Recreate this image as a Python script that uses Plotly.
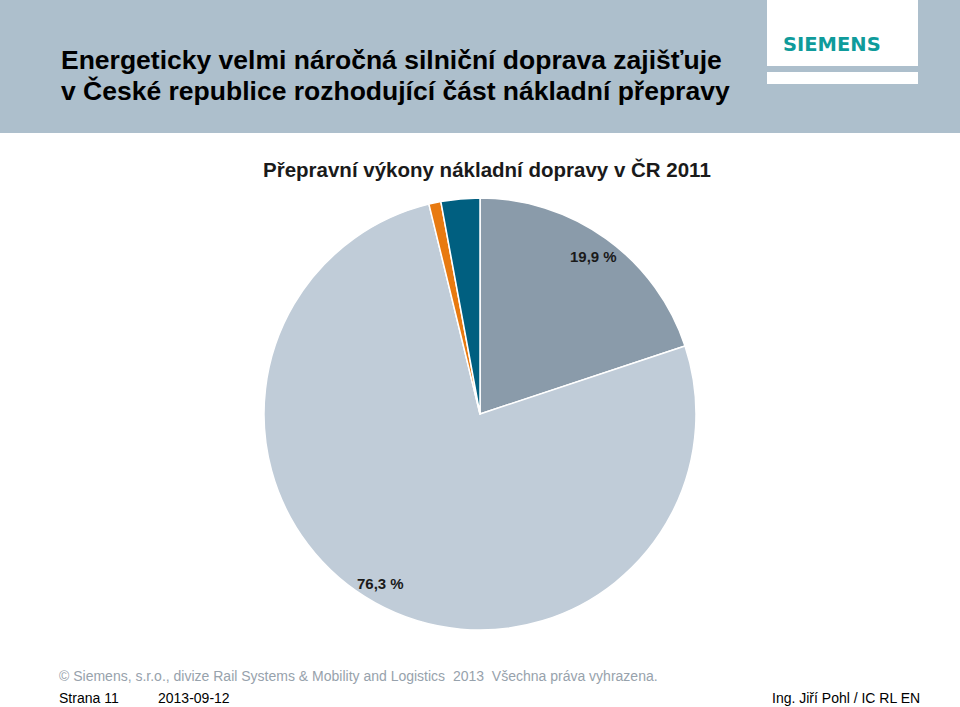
import math
import plotly.graph_objects as go

W, H = 960, 707

categories = ["Silniční doprava A", "Silniční doprava", "Vnitrozemská vodní", "Železniční"]
values = [19.9, 76.3, 0.9, 2.9]
value_labels = ["19,9 %", "76,3 %", "", ""]
colors = ["#8a9baa", "#c0ccd8", "#e87a10", "#005f80"]

title_lines = ["Energeticky velmi náročná silniční doprava zajišťuje",
               "v České republice rozhodující část nákladní přepravy"]
chart_title = "Přepravní výkony nákladní dopravy v ČR 2011"
footer_copy = "© Siemens, s.r.o., divize Rail Systems & Mobility and Logistics  2013  Všechna práva vyhrazena."
footer_page = "Strana 11"
footer_date = "2013-09-12"
footer_author = "Ing. Jiří Pohl / IC RL EN"

cx, cy, R = 480, 414, 216

fig = go.Figure()
fig.add_trace(go.Pie(
    labels=categories, values=values, sort=False, direction="clockwise", rotation=0,
    marker=dict(colors=colors, line=dict(color="white", width=1.5)),
    textinfo="none", hoverinfo="label+percent", showlegend=False,
    domain=dict(x=[(cx - R) / W, (cx + R) / W], y=[(H - cy - R) / H, (H - cy + R) / H]),
))

def px(x, y):
    return x / W, 1 - y / H

ann = []
total = sum(values)
cum = 0
for v, lab in zip(values, value_labels):
    mid = (cum + v / 2) / total * 2 * math.pi
    cum += v
    if not lab:
        continue
    rf = 0.9 if v < 50 else 0.95
    lx = cx + rf * R * math.sin(mid)
    ly = cy - rf * R * math.cos(mid)
    x, y = px(lx, ly)
    ann.append(dict(x=x, y=y, xref="paper", yref="paper", text="<b>" + lab + "</b>", showarrow=False,
                    font=dict(family="Liberation Sans, Arial", size=15, color="#1a1a1a")))

# header texts
for i, line in enumerate(title_lines):
    x, y = px(59, 60 + i * 30.5)
    ann.append(dict(x=x, y=y, xref="paper", yref="paper", text="<b>" + line + "</b>",
                    showarrow=False, xanchor="left", yanchor="middle",
                    font=dict(family="Liberation Sans, Arial", size=26.5, color="#000000")))
x, y = px(832, 44)
ann.append(dict(x=x, y=y, xref="paper", yref="paper", text="<b>SIEMENS</b>", showarrow=False,
                xanchor="center", yanchor="middle",
                font=dict(family="DejaVu Sans, Open Sans", size=19.5, color="#0f9b9b")))
x, y = px(487, 170)
ann.append(dict(x=x, y=y, xref="paper", yref="paper", text="<b>" + chart_title + "</b>", showarrow=False,
                xanchor="center", yanchor="middle",
                font=dict(family="Liberation Sans, Arial", size=20.5, color="#1a1a1a")))
x, y = px(57, 676)
ann.append(dict(x=x, y=y, xref="paper", yref="paper", text=footer_copy, showarrow=False,
                xanchor="left", yanchor="middle",
                font=dict(family="Liberation Sans, Arial", size=14, color="#97a2ac")))
for txt, xx, anc in [(footer_page, 57, "left"), (footer_date, 156, "left"), (footer_author, 922, "right")]:
    x, y = px(xx, 698)
    ann.append(dict(x=x, y=y, xref="paper", yref="paper", text=txt, showarrow=False,
                    xanchor=anc, yanchor="middle",
                    font=dict(family="Liberation Sans, Arial", size=14, color="#000000")))

shapes = [
    dict(type="rect", xref="paper", yref="paper", x0=0, x1=1, y0=1 - 133 / H, y1=1,
         fillcolor="#adbfcc", line=dict(width=0), layer="below"),
    dict(type="rect", xref="paper", yref="paper", x0=767 / W, x1=918 / W, y0=1 - 66 / H, y1=1,
         fillcolor="white", line=dict(width=0), layer="below"),
    dict(type="rect", xref="paper", yref="paper", x0=767 / W, x1=918 / W, y0=1 - 84 / H, y1=1 - 72 / H,
         fillcolor="white", line=dict(width=0), layer="below"),
]

fig.update_layout(width=W, height=H, margin=dict(l=0, r=0, t=0, b=0),
                  paper_bgcolor="white", plot_bgcolor="white",
                  annotations=ann, shapes=shapes)
fig.write_html("out.html", config={"displayModeBar": False},
               post_script="document.body.style.margin='0';document.body.style.padding='0';"
                           "document.body.style.overflow='hidden';")
